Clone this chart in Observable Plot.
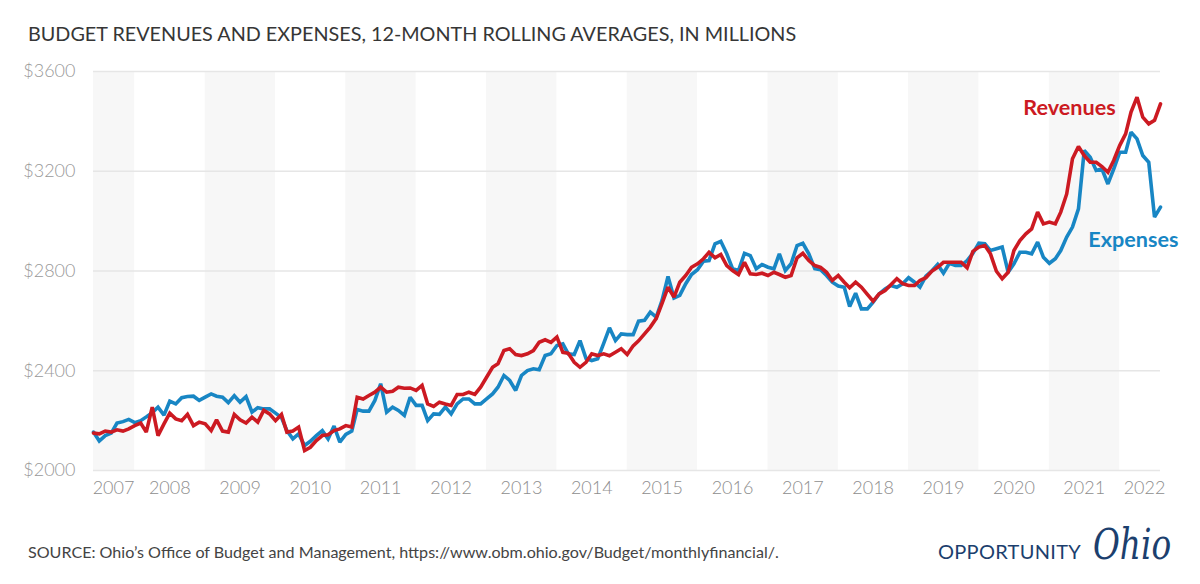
<!DOCTYPE html>
<html>
<head>
<meta charset="utf-8">
<script src="https://cdn.jsdelivr.net/npm/d3@7"></script>
<script src="https://cdn.jsdelivr.net/npm/@observablehq/plot@0.6"></script>
<style>
  html, body { margin: 0; padding: 0; background: #fff; }
  body { width: 1200px; height: 584px; overflow: hidden; font-family: Lato, "Noto Sans", sans-serif; }
  #title { position: relative; height: 56px; }
  #title span { position: absolute; left: 28px; top: 21px; font-size: 19.8px; line-height: 24px; color: #363636; white-space: nowrap; }
  #chart { height: 470px; }
  #footer { position: relative; height: 58px; }
  #source { position: absolute; left: 28px; top: 16px; font-size: 16.1px; line-height: 20px; color: #444; white-space: nowrap; }
  #logo1 { position: absolute; left: 938px; top: 13px; font-size: 20px; line-height: 24px; color: #1c3f6e; letter-spacing: 0.3px; white-space: nowrap; }
  #logo2 { position: absolute; left: 1093px; top: -5px; font-size: 42px; line-height: 48px; color: #1c3f6e; font-style: italic; font-family: "DejaVu Serif", "Liberation Serif", serif; white-space: nowrap; transform: scaleX(0.78); transform-origin: left center; }
</style>
</head>
<body>
<div id="title"><span>BUDGET REVENUES AND EXPENSES, 12-MONTH ROLLING AVERAGES, IN MILLIONS</span></div>
<div id="chart"></div>
<div id="footer">
  <div id="source">SOURCE: Ohio’s Office of Budget and Management, https://www.obm.ohio.gov/Budget/monthlyfinancial/.</div>
  <div id="logo1">OPPORTUNITY</div>
  <div id="logo2">Ohio</div>
</div>
<script>
// ---- data (monthly, June 2007 – August 2022) ----
const startMonth = "2007-06-01";
const endMonth = "2022-08-01";

const revenues = [
  2150, 2147, 2158, 2154, 2163, 2158, 2167, 2180, 2190, 2154,
  2254, 2140, 2187, 2230, 2207, 2200, 2225, 2180, 2194, 2187,
  2160, 2203, 2158, 2154, 2225, 2203, 2190, 2214, 2194, 2241,
  2227, 2200, 2225, 2154, 2158, 2174, 2080, 2093, 2120, 2140,
  2143, 2160, 2167, 2180, 2174, 2294, 2287, 2301, 2314, 2334,
  2314, 2318, 2334, 2330, 2331, 2321, 2341, 2267, 2257, 2274,
  2267, 2261, 2305, 2305, 2314, 2305, 2334, 2374, 2414, 2428,
  2481, 2488, 2465, 2461, 2468, 2481, 2514, 2524, 2514, 2535,
  2474, 2470, 2434, 2414, 2434, 2468, 2461, 2468, 2460, 2474,
  2488, 2465, 2500, 2520, 2548, 2575, 2610, 2670, 2735, 2695,
  2755, 2782, 2815, 2829, 2849, 2875, 2853, 2866, 2822, 2802,
  2786, 2835, 2789, 2786, 2791, 2782, 2795, 2786, 2775, 2782,
  2853, 2871, 2842, 2822, 2815, 2795, 2762, 2782, 2755, 2733,
  2755, 2735, 2706, 2679, 2708, 2722, 2745, 2769, 2749, 2742,
  2742, 2762, 2773, 2799, 2815, 2835, 2835, 2835, 2835, 2813,
  2879, 2896, 2902, 2869, 2799, 2769, 2795, 2882, 2922, 2949,
  2969, 3036, 2989, 2996, 2989, 3036, 3109, 3250, 3299, 3263,
  3236, 3236, 3219, 3196, 3243, 3303, 3350, 3437, 3497, 3417,
  3390, 3404, 3470
];

const expenses = [
  2154, 2118, 2140, 2150, 2190, 2196, 2205, 2192, 2200, 2215,
  2232, 2254, 2222, 2278, 2267, 2292, 2297, 2298, 2281, 2294,
  2307, 2298, 2294, 2272, 2300, 2274, 2296, 2234, 2252, 2247,
  2247, 2230, 2212, 2160, 2127, 2147, 2100, 2117, 2140, 2160,
  2127, 2178, 2114, 2145, 2158, 2245, 2238, 2238, 2281, 2348,
  2234, 2254, 2241, 2221, 2294, 2261, 2261, 2200, 2227, 2225,
  2254, 2227, 2267, 2287, 2287, 2267, 2267, 2287, 2307, 2334,
  2381, 2361, 2321, 2381, 2401, 2408, 2404, 2461, 2468, 2501,
  2508, 2468, 2465, 2521, 2450, 2441, 2448, 2510, 2572, 2521,
  2548, 2545, 2545, 2599, 2602, 2635, 2615, 2682, 2778, 2692,
  2702, 2749, 2786, 2805, 2839, 2842, 2909, 2919, 2869, 2809,
  2802, 2871, 2862, 2809, 2826, 2815, 2809, 2869, 2802, 2829,
  2902, 2911, 2869, 2809, 2805, 2782, 2755, 2740, 2735, 2658,
  2711, 2648, 2648, 2675, 2708, 2728, 2742, 2735, 2749, 2773,
  2755, 2735, 2779, 2800, 2826, 2791, 2831, 2822, 2822, 2842,
  2871, 2912, 2909, 2882, 2889, 2896, 2795, 2829, 2875, 2875,
  2869, 2916, 2855, 2831, 2849, 2882, 2936, 2976, 3049, 3283,
  3256, 3203, 3209, 3149, 3209, 3276, 3276, 3357, 3330, 3263,
  3236, 3016, 3056
];

const yTicks = [2000, 2400, 2800, 3200, 3600];
const shadedYears = [2007, 2009, 2011, 2013, 2015, 2017, 2019, 2021];
const yearTickDates = [
  "2007-09-13", "2008-07-01", "2009-07-01", "2010-07-01", "2011-07-01",
  "2012-07-01", "2013-07-01", "2014-07-01", "2015-07-01", "2016-07-01",
  "2017-07-01", "2018-07-01", "2019-07-01", "2020-07-01", "2021-07-01",
  "2022-05-10"
];
const seriesLabels = [
  {name: "Revenues", date: "2020-08-19", value: 3452, series: "rev"},
  {name: "Expenses", date: "2021-07-22", value: 2922, series: "exp"}
];

// ---- build tables ----
const RED = "#cc1a22";
const BLUE = "#1886c4";
const start = new Date(startMonth);
const rows = revenues.map((r, i) => ({
  date: d3.utcMonth.offset(start, i),
  revenues: r,
  expenses: expenses[i]
}));
const bands = shadedYears.map(y => ({x1: new Date(Date.UTC(y, 0, 1)), x2: new Date(Date.UTC(y + 1, 0, 1))}));
const ticks = yearTickDates.map(d => new Date(d));
const labels = seriesLabels.map(d => ({...d, date: new Date(d.date)}));

const chart = Plot.plot({
  width: 1200,
  height: 470,
  marginTop: 15,
  marginBottom: 56,
  marginLeft: 93,
  marginRight: 40,
  style: {fontFamily: "Lato, 'Noto Sans', sans-serif", background: "#fff", overflow: "visible"},
  x: {type: "utc", domain: [new Date(startMonth), new Date(endMonth)]},
  y: {domain: [2000, 3600]},
  marks: [
    Plot.rect(bands, {x1: "x1", x2: "x2", fill: "#f7f7f7", clip: true}),
    Plot.gridY(yTicks, {stroke: "#e6e6e6", strokeOpacity: 1, strokeWidth: 1.5}),
    Plot.axisY(yTicks, {tickSize: 0, tickPadding: 18, tickFormat: d => "$" + d, fontSize: 18, color: "#999999", fontWeight: 300, label: null}),
    Plot.axisX(ticks, {tickSize: 0, tickPadding: 11, tickFormat: d => String(d.getUTCFullYear()), fontSize: 18, color: "#8e8e8e", fontWeight: 300, label: null}),
    Plot.line(rows, {x: "date", y: "expenses", stroke: BLUE, strokeWidth: 3.6, strokeLinejoin: "miter", strokeMiterlimit: 2}),
    Plot.line(rows, {x: "date", y: "revenues", stroke: RED, strokeWidth: 3.6, strokeLinejoin: "miter", strokeMiterlimit: 2}),
    Plot.text(labels, {x: "date", y: "value", text: "name", textAnchor: "start", fontSize: 21.6, fontWeight: "bold",
      fill: d => d.series === "rev" ? RED : BLUE})
  ]
});
document.getElementById("chart").appendChild(chart);
</script>
</body>
</html>
